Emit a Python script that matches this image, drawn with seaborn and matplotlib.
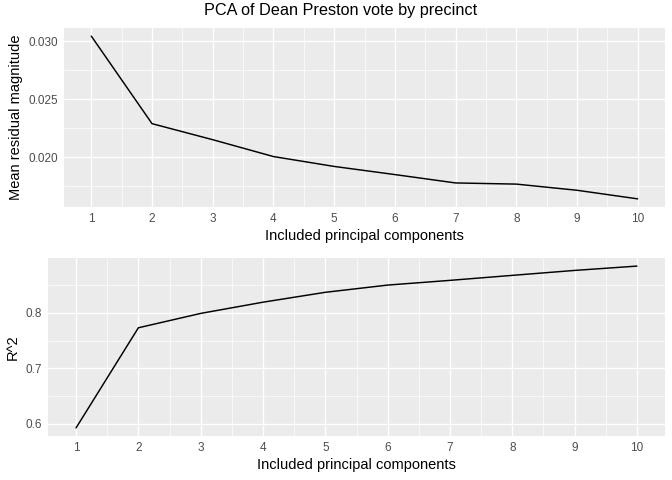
import matplotlib
matplotlib.use("Agg")
import matplotlib.pyplot as plt
import seaborn as sns
import pandas as pd
from matplotlib.ticker import FixedLocator

components = [1, 2, 3, 4, 5, 6, 7, 8, 9, 10]
mean_residual = [0.03043, 0.02290, 0.02152, 0.02007, 0.01922, 0.01852, 0.01780, 0.01770, 0.01717, 0.01643]
r_squared = [0.5928, 0.7731, 0.7990, 0.8192, 0.8370, 0.8500, 0.8585, 0.8675, 0.8764, 0.8842]

title = "PCA of Dean Preston vote by precinct"
xlabel = "Included principal components"
ylabel_top = "Mean residual magnitude"
ylabel_bottom = "R^2"

sns.set_theme(style="darkgrid")
plt.rcParams['font.family'] = ['Liberation Sans', 'DejaVu Sans']

df = pd.DataFrame({"pc": components, "resid": mean_residual, "r2": r_squared})

fig = plt.figure(figsize=(7, 5), dpi=96)
ax1 = fig.add_axes([64/672, 1-207/480, (665-64)/672, (207-28)/480])
ax2 = fig.add_axes([48/672, 1-436/480, (665-48)/672, (436-258)/480])

def style(ax, ymajor, yminor, ylab):
    ax.set_facecolor("#EBEBEB")
    for s in ax.spines.values():
        s.set_visible(False)
    ax.set_xlim(0.55, 10.45)
    ax.xaxis.set_major_locator(FixedLocator(components))
    ax.xaxis.set_minor_locator(FixedLocator([c + 0.5 for c in components[:-1]]))
    ax.yaxis.set_major_locator(FixedLocator(ymajor))
    ax.yaxis.set_minor_locator(FixedLocator(yminor))
    ax.grid(which="major", color="white", linewidth=1.0)
    ax.grid(which="minor", color="white", linewidth=0.5)
    ax.set_axisbelow(True)
    ax.tick_params(which="major", length=2.75, width=0.8, color="#333333",
                   labelsize=8.8, labelcolor="#4D4D4D", pad=2)
    ax.tick_params(which="minor", length=0)
    ax.set_xlabel(xlabel, fontsize=11, color="black", labelpad=3)
    ax.set_ylabel(ylab, fontsize=11, color="black", labelpad=4)

sns.lineplot(data=df, x="pc", y="resid", ax=ax1, color="black", linewidth=1.1)
sns.lineplot(data=df, x="pc", y="r2", ax=ax2, color="black", linewidth=1.1)

r = max(mean_residual) - min(mean_residual)
ax1.set_ylim(min(mean_residual) - 0.05*r, max(mean_residual) + 0.05*r)
r2r = max(r_squared) - min(r_squared)
ax2.set_ylim(min(r_squared) - 0.05*r2r, max(r_squared) + 0.05*r2r)

style(ax1, [0.020, 0.025, 0.030], [0.0175, 0.0225, 0.0275], ylabel_top)
ax1.yaxis.set_major_formatter(matplotlib.ticker.FuncFormatter(lambda v, p: f"{v:.3f}"))
style(ax2, [0.6, 0.7, 0.8], [0.65, 0.75, 0.85], ylabel_bottom)
ax2.yaxis.set_major_formatter(matplotlib.ticker.FuncFormatter(lambda v, p: f"{v:.1f}"))

fig.text(341/672, 1-11/480, title, ha="center", va="center", fontsize=12.2, color="black")

fig.savefig("out.png", dpi=96)
